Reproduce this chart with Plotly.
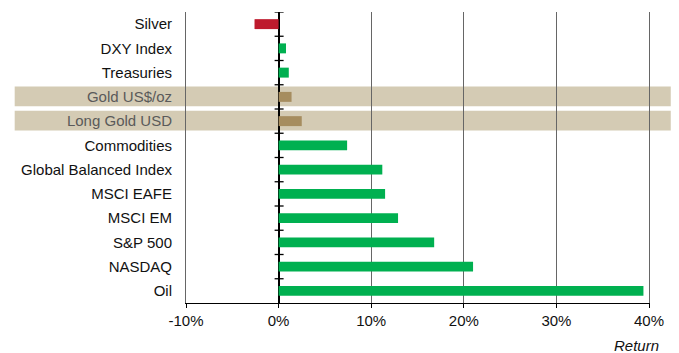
import plotly.graph_objects as go

categories = ["Silver", "DXY Index", "Treasuries", "Gold US$/oz", "Long Gold USD",
              "Commodities", "Global Balanced Index", "MSCI EAFE", "MSCI EM",
              "S&P 500", "NASDAQ", "Oil"]
returns = [-2.6, 0.8, 1.1, 1.4, 2.5, 7.4, 11.2, 11.5, 12.9, 16.8, 21.0, 39.4]
highlight = ["Gold US$/oz", "Long Gold USD"]
x_ticks = [-10, 0, 10, 20, 30, 40]
x_ticklabels = ["-10%", "0%", "10%", "20%", "30%", "40%"]

GREEN = "#00b050"
RED = "#be1a2d"
GOLD = "#a68d5f"
BAND = "#d4cbb4"

colors = []
for c, v in zip(categories, returns):
    if c in highlight:
        colors.append(GOLD)
    elif v < 0:
        colors.append(RED)
    else:
        colors.append(GREEN)

ticktext = [f'<span style="color:#5a5a5a">{c}</span>' if c in highlight else c
            for c in categories]

fig = go.Figure(go.Bar(
    x=returns, y=categories, orientation="h",
    marker=dict(color=colors, line=dict(width=0)),
    width=0.41, hoverinfo="x+y",
))

n = len(categories)
shapes = []
for c in highlight:
    i = categories.index(c)
    shapes.append(dict(type="rect", xref="paper", yref="y",
                       x0=-0.37, x1=1.047, y0=i - 0.43, y1=i + 0.39,
                       fillcolor=BAND, line=dict(width=0), layer="below"))
for k in range(n):
    shapes.append(dict(type="line", xref="x", yref="y", xsizemode="pixel",
                       xanchor=0, x0=-4, x1=5, y0=k - 0.5, y1=k - 0.5,
                       line=dict(color="black", width=1.3), layer="above"))

fig.update_layout(
    width=679, height=353,
    margin=dict(l=186, r=30, t=12, b=50),
    paper_bgcolor="white",
    plot_bgcolor="rgba(0,0,0,0)",
    font=dict(family="Liberation Sans, Arial, sans-serif", size=15, color="#111"),
    showlegend=False,
    bargap=0.59,
    shapes=shapes,
    xaxis=dict(
        range=[-10, 40], tickvals=x_ticks, ticktext=x_ticklabels,
        showgrid=True, gridcolor="#666", gridwidth=1,
        zeroline=True, zerolinecolor="black", zerolinewidth=1.5,
        showline=True, linecolor="black", linewidth=1.3,
        ticks="outside", ticklen=4, tickcolor="black", tickwidth=1.3,
        fixedrange=True,
    ),
    yaxis=dict(
        type="category", categoryorder="array", categoryarray=categories,
        tickvals=categories, ticktext=ticktext,
        range=[n - 0.5, -0.5],
        showgrid=False, zeroline=False,
        showline=True, linecolor="#666", linewidth=1, mirror=True,
        ticks="", ticklabelstandoff=10,
        fixedrange=True,
    ),
    annotations=[dict(text="<i>Return</i>", xref="paper", yref="paper",
                      x=1.026, y=-0.147, xanchor="right", yanchor="middle",
                      showarrow=False, font=dict(size=15, color="#111"))],
)

fig.write_html("out.html")
